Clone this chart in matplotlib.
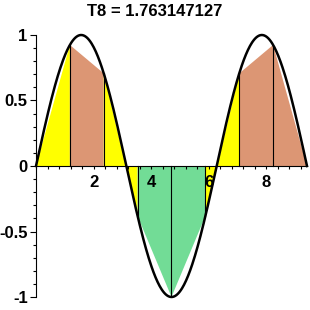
import numpy as np
import matplotlib
matplotlib.use("Agg")
import matplotlib.pyplot as plt
from matplotlib.ticker import MultipleLocator, FixedLocator

# trapezoid nodes (3*pi/8 steps) and f values at the nodes
nodes = [0.0, 1.178, 2.356, 3.534, 4.712, 5.890, 7.069, 8.247, 9.425]
heights = [0.0, 0.924, 0.707, -0.383, -1.0, -0.383, 0.707, 0.924, 0.0]
piece_colors = ["yellow", "brown", "yellow", "green", "green", "yellow", "brown", "brown"]
title_text = "T8 = 1.763147127"
xticks = [2, 4, 6, 8]
yticks = [-1, -0.5, 0, 0.5, 1]
ytick_labels = ["-1", "-0.5", "0", "0.5", "1"]

palette = {"yellow": "#FFFF00", "brown": "#DC9674", "green": "#72DC96"}

plt.rcParams["font.family"] = ["Liberation Sans", "DejaVu Sans"]
plt.rcParams["font.weight"] = "bold"

fig = plt.figure(figsize=(3.1, 3.1), dpi=100)
ax = fig.add_axes([36 / 310, 13 / 310, 271 / 310, 262 / 310])

for i in range(len(nodes) - 1):
    x0, x1 = nodes[i], nodes[i + 1]
    y0, y1 = heights[i], heights[i + 1]
    ax.fill([x0, x0, x1, x1], [0, y0, y1, 0], color=palette[piece_colors[i]],
            linewidth=0, zorder=1)

for x, y in zip(nodes[1:-1], heights[1:-1]):
    ax.plot([x, x], [0, y], color="black", linewidth=0.8, zorder=2)

xx = np.linspace(0, 3 * np.pi, 400)
ax.plot(xx, np.sin(xx), color="black", linewidth=1.8, zorder=3, clip_on=False)

ax.set_xlim(0, 3 * np.pi)
ax.set_ylim(-1, 1)
ax.spines["left"].set_position(("data", 0))
ax.spines["bottom"].set_position(("data", 0))
ax.spines["top"].set_visible(False)
ax.spines["right"].set_visible(False)
ax.spines["left"].set_linewidth(0.8)
ax.spines["bottom"].set_linewidth(0.8)

ax.xaxis.set_major_locator(FixedLocator(xticks))
ax.xaxis.set_minor_locator(MultipleLocator(0.4))
ax.yaxis.set_major_locator(FixedLocator(yticks))
ax.yaxis.set_minor_locator(MultipleLocator(0.1))
ax.set_yticklabels(ytick_labels)

ax.tick_params(axis="x", which="major", direction="out", length=2.5, width=0.8,
               pad=4, labelsize=12)
ax.tick_params(axis="x", which="minor", direction="out", length=2.0, width=0.8)
ax.tick_params(axis="y", which="major", direction="out", length=4.5, width=0.8,
               pad=1.5, labelsize=12)
ax.tick_params(axis="y", which="minor", direction="out", length=2.2, width=0.8)

fig.text(0.5, 1 - 11 / 310, title_text, ha="center", va="center",
         fontsize=12, fontweight="bold")

plt.savefig("out.png", dpi=100)
